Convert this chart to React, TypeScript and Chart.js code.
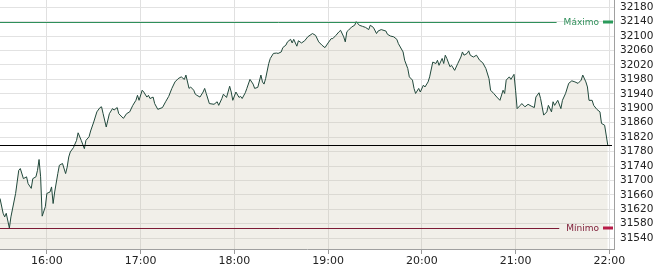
import { useEffect, useRef } from "react";
import { Chart, registerables } from "chart.js";

Chart.register(...registerables);

const times = [
  "15:30","15:32","15:33","15:34","15:36","15:37","15:40","15:42","15:43","15:45",
  "15:47","15:48","15:50","15:51","15:53","15:54","15:55","15:56","15:57","15:59",
  "16:00","16:02","16:03","16:04","16:05","16:07","16:08","16:10","16:12","16:13",
  "16:14","16:15","16:17","16:19","16:20","16:22","16:24","16:25","16:27","16:28",
  "16:30","16:32","16:34","16:35","16:36","16:38","16:40","16:42","16:43","16:45",
  "16:46","16:49","16:51","16:53","16:55","16:57","16:58","16:59","17:01","17:02",
  "17:04","17:05","17:06","17:08","17:09","17:11","17:14","17:16","17:18","17:20",
  "17:22","17:24","17:26","17:28","17:29","17:31","17:32","17:34","17:35","17:36",
  "17:38","17:40","17:41","17:42","17:44","17:47","17:49","17:50","17:52","17:53",
  "17:55","17:57","17:58","17:59","18:01","18:03","18:04","18:05","18:07","18:08",
  "18:10","18:12","18:13","18:15","18:17","18:18","18:19","18:20","18:22","18:23",
  "18:25","18:27","18:28","18:30","18:31","18:33","18:34","18:36","18:37","18:38",
  "18:40","18:41","18:43","18:45","18:47","18:50","18:52","18:54","18:56","18:58",
  "19:00","19:02","19:03","19:05","19:07","19:08","19:10","19:11","19:12","19:13",
  "19:15","19:17","19:18","19:20","19:22","19:24","19:26","19:27","19:29","19:31",
  "19:32","19:34","19:37","19:38","19:40","19:42","19:44","19:45","19:48","19:49",
  "19:51","19:52","19:54","19:55","19:56","19:58","19:59","20:01","20:02","20:04",
  "20:05","20:07","20:09","20:10","20:11","20:13","20:14","20:15","20:16","20:18",
  "20:19","20:21","20:23","20:25","20:26","20:27","20:29","20:30","20:31","20:33",
  "20:35","20:37","20:39","20:41","20:43","20:44","20:46","20:48","20:50","20:52",
  "20:53","20:54","20:56","20:57","20:58","20:59","21:00","21:01","21:03","21:04",
  "21:06","21:08","21:10","21:12","21:13","21:15","21:16","21:18","21:20","21:21",
  "21:23","21:24","21:25","21:27","21:29","21:30","21:32","21:34","21:36","21:38",
  "21:40","21:42","21:43","21:45","21:46","21:47","21:49","21:50","21:52","21:54",
  "21:55","21:57","21:59"
];

const values = [
  31650,31609,31599,31609,31568,31599,31664,31728,31733,31705,
  31710,31691,31678,31705,31710,31728,31758,31710,31601,31627,
  31664,31668,31682,31636,31668,31719,31742,31747,31719,31737,
  31765,31779,31791,31811,31832,31811,31788,31811,31821,31837,
  31862,31890,31902,31904,31885,31848,31885,31899,31895,31902,
  31885,31872,31885,31890,31908,31922,31936,31922,31950,31945,
  31931,31936,31927,31931,31913,31897,31902,31918,31933,31955,
  31973,31982,31987,31980,31992,31955,31959,31950,31939,31936,
  31931,31945,31955,31941,31913,31911,31918,31908,31927,31939,
  31930,31961,31945,31922,31945,31930,31933,31927,31943,31955,
  31980,31967,31955,31958,31992,31973,31967,31982,32024,32038,
  32052,32053,32052,32056,32068,32075,32084,32091,32081,32091,
  32072,32087,32081,32087,32098,32107,32102,32084,32075,32068,
  32081,32093,32093,32102,32112,32116,32098,32084,32112,32116,
  32125,32130,32140,32130,32127,32124,32118,32130,32124,32107,
  32114,32118,32114,32105,32100,32098,32091,32079,32056,32033,
  32010,31987,31978,31955,31941,31955,31945,31964,31959,31973,
  31987,32028,32024,32033,32019,32038,32024,32047,32038,32015,
  32019,32005,32024,32042,32056,32047,32052,32059,32047,32042,
  32047,32033,32026,32010,31982,31950,31941,31931,31922,31950,
  31941,31978,31987,31980,31987,31994,31950,31899,31908,31913,
  31904,31911,31906,31902,31931,31943,31927,31881,31890,31908,
  31890,31918,31908,31922,31899,31922,31941,31969,31976,31973,
  31969,31978,31992,31973,31959,31922,31922,31908,31897,31890,
  31858,31853,31798
];

const hourLabels = ["16:00", "17:00", "18:00", "19:00", "20:00", "21:00", "22:00"];
const yTickValues = [
  31540, 31580, 31620, 31660, 31700, 31740, 31780, 31820, 31860,
  31900, 31940, 31980, 32020, 32060, 32100, 32140, 32180
];
const referenceLevel = 31797;
const sessionStart = "15:30";
const sessionEnd = "22:03";
const yMin = 31510;
const yMax = 32200;
const maxLabel = "Máximo";
const minLabel = "Mínimo";

const toMinutes = (t: string) => {
  const [h, m] = t.split(":").map(Number);
  return h * 60 + m;
};
const pad = (n: number) => (n < 10 ? "0" + n : "" + n);
const fmt = (mins: number) => pad(Math.floor(mins / 60)) + ":" + pad(Math.round(mins % 60));

const FONT = '"DejaVu Sans", Verdana, sans-serif';

const levelsPlugin = {
  id: "levels",
  afterDatasetsDraw(chart: any) {
    const { ctx, chartArea, scales } = chart;
    const ys = scales.y;
    const maxV = Math.max(...values);
    const minV = Math.min(...values);

    const ry = Math.round(ys.getPixelForValue(referenceLevel)) + 0.5;
    ctx.save();
    ctx.strokeStyle = "#000000";
    ctx.lineWidth = 1;
    ctx.beginPath();
    ctx.moveTo(chartArea.left, ry);
    ctx.lineTo(chartArea.right - 2, ry);
    ctx.stroke();
    ctx.restore();

    const drawLevel = (value: number, color: string, markColor: string, label: string) => {
      const py = Math.round(ys.getPixelForValue(value)) + 0.5;
      ctx.save();
      ctx.font = "9px " + FONT;
      const tw = ctx.measureText(label).width;
      const markRight = chartArea.right - 1;
      const markLeft = markRight - 10;
      const textRight = markLeft - 4;
      const textLeft = textRight - tw;
      ctx.strokeStyle = color;
      ctx.lineWidth = 1;
      ctx.beginPath();
      ctx.moveTo(chartArea.left, py);
      ctx.lineTo(textLeft - 7, py);
      ctx.stroke();
      ctx.fillStyle = color;
      ctx.textBaseline = "middle";
      ctx.textAlign = "left";
      ctx.fillText(label, textLeft, py);
      ctx.fillStyle = markColor;
      ctx.fillRect(markLeft, py - 2, 10, 3);
      ctx.restore();
    };
    drawLevel(maxV, "#2f8f5a", "#2a9a5a", maxLabel);
    drawLevel(minV, "#7d1a35", "#b81c48", minLabel);
  },
};

export default function App() {
  const ref = useRef<HTMLCanvasElement | null>(null);

  useEffect(() => {
    if (!ref.current) return;
    const points = times.map((t, i) => ({ x: toMinutes(t), y: values[i] }));
    const chart = new Chart(ref.current, {
      type: "line",
      data: {
        datasets: [
          {
            data: points,
            borderColor: "#21483b",
            borderWidth: 1,
            pointRadius: 0,
            tension: 0,
            fill: "start",
            backgroundColor: "rgba(200,195,170,0.26)",
          },
        ],
      },
      options: {
        animation: false,
        responsive: false,
        devicePixelRatio: 1,
        layout: { padding: 0 },
        plugins: {
          legend: { display: false },
          tooltip: { enabled: false },
        },
        scales: {
          x: {
            type: "linear",
            min: toMinutes(sessionStart),
            max: toMinutes(sessionEnd),
            afterBuildTicks: (scale: any) => {
              scale.ticks = hourLabels.map((h) => ({ value: toMinutes(h) }));
            },
            afterFit: (scale: any) => {
              scale.height = 21;
              scale.paddingLeft = 0;
              scale.paddingRight = 0;
            },
            grid: {
              color: "#e0e0e0",
              tickColor: "#9a9a9a",
              tickLength: 5,
            },
            border: { color: "#a0a0a0" },
            ticks: {
              color: "#222",
              font: { family: FONT, size: 11 },
              padding: 1,
              maxRotation: 0,
              autoSkip: false,
              callback: (v: any) => fmt(Number(v)),
            },
          },
          y: {
            position: "right",
            min: yMin,
            max: yMax,
            afterBuildTicks: (scale: any) => {
              scale.ticks = yTickValues.map((v) => ({ value: v }));
            },
            afterFit: (scale: any) => {
              scale.width = 46;
              scale.paddingTop = 0;
              scale.paddingBottom = 0;
            },
            grid: {
              color: "#e2e2e2",
              drawTicks: false,
            },
            border: { color: "#a0a0a0" },
            ticks: {
              color: "#222",
              font: { family: FONT, size: 10.5 },
              padding: 6,
              autoSkip: false,
              callback: (v: any) => String(v),
            },
          },
        },
      },
      plugins: [levelsPlugin],
    });
    return () => chart.destroy();
  }, []);

  return (
    <div style={{ position: "fixed", left: 0, top: 0, width: 660, height: 270, background: "#fff" }}>
      <canvas ref={ref} width={660} height={270} style={{ display: "block", width: 660, height: 270 }} />
    </div>
  );
}
